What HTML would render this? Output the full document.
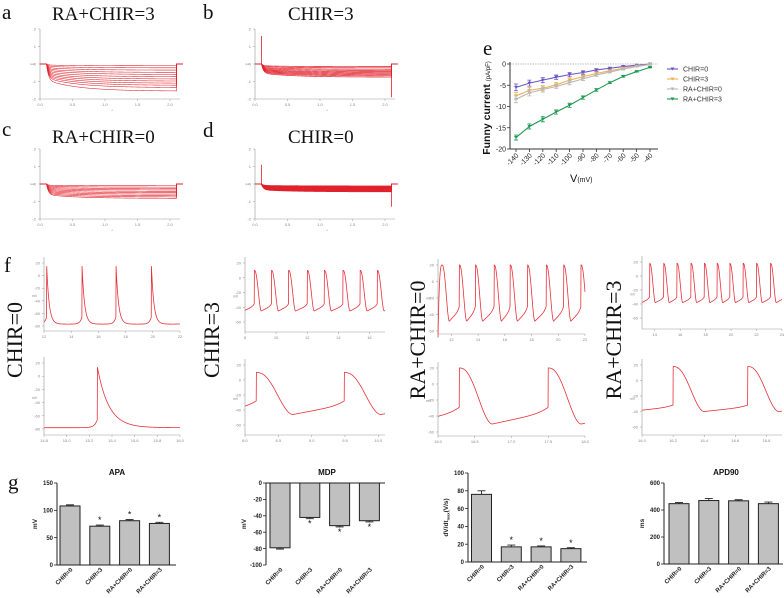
<!DOCTYPE html>
<html><head><meta charset="utf-8">
<style>
html,body{margin:0;padding:0;background:#fff;}
svg{display:block;}
.ser{font-family:"Liberation Serif",serif;}
.san{font-family:"Liberation Sans",sans-serif;}
</style></head>
<body>
<svg id="fig" width="784" height="598" viewBox="0 0 784 598" xmlns="http://www.w3.org/2000/svg">
  <rect x="0" y="0" width="784" height="598" fill="#fff"/>
  <g class="ser" fill="#111">
    <text x="2" y="19" font-size="21">a</text>
    <text x="52" y="20" font-size="19">RA+CHIR=3</text>
    <text x="203" y="19" font-size="21">b</text>
    <text x="288" y="20" font-size="19">CHIR=3</text>
    <text x="2" y="136" font-size="21">c</text>
    <text x="52" y="143" font-size="19">RA+CHIR=0</text>
    <text x="203" y="137" font-size="21">d</text>
    <text x="288" y="143" font-size="19">CHIR=0</text>
    <text x="483" y="55" font-size="21">e</text>
    <text x="4" y="272" font-size="21">f</text>
    <text x="8" y="489" font-size="21">g</text>
    <text transform="translate(22,340) rotate(-90)" text-anchor="middle" font-size="22">CHIR=0</text>
    <text transform="translate(219,340) rotate(-90)" text-anchor="middle" font-size="22">CHIR=3</text>
    <text transform="translate(425,340) rotate(-90)" text-anchor="middle" font-size="22">RA+CHIR=0</text>
    <text transform="translate(621,340) rotate(-90)" text-anchor="middle" font-size="22">RA+CHIR=3</text>
  </g>
  <g id="layer"></g>
</svg>
<script>
// ---------- Panel e data ----------
const eVolt = [-140,-130,-120,-110,-100,-90,-80,-70,-60,-50,-40];
const eChir0 = [-5.5,-4.5,-3.8,-3.1,-2.5,-2.0,-1.4,-1.0,-0.6,-0.3,0];
const eChir3 = [-7.5,-6.2,-5.7,-4.9,-3.8,-3.0,-2.2,-1.6,-1.0,-0.5,-0.1];
const eRa0 = [-8.3,-6.8,-6.0,-5.3,-4.4,-3.5,-2.6,-1.9,-1.2,-0.6,-0.1];
const eRa3 = [-17.3,-14.7,-13.0,-11.3,-9.7,-7.9,-6.1,-4.4,-2.9,-1.8,-0.8];
const eErr3 = [0.6,0.6,0.6,0.5,0.5,0.4,0.3,0.2,0.2,0.1,0.1];
const eErrS = [0.8,0.7,0.6,0.5,0.5,0.4,0.3,0.2,0.2,0.1,0.1];
const eYTicks = [0,-5,-10,-15,-20];
const eNames = ['CHIR=0','CHIR=3','RA+CHIR=0','RA+CHIR=3'];
// ---------- Panel g data ----------
const gGroups = ['CHIR=0','CHIR=3','RA+CHIR=0','RA+CHIR=3'];
const apaVals = [108,71,81,76];
const apaErr = [2,2,2,2];
const apaTicks = [0,50,100,150];
const mdpVals = [-79,-42,-52,-46];
const mdpErr = [1.5,1.5,1.5,1.5];
const mdpTicks = [0,-20,-40,-60,-80,-100];
const dvdtVals = [76,17,17,15];
const dvdtErr = [4,2,1,1];
const dvdtTicks = [0,20,40,60,80,100];
const apdVals = [447,470,468,447];
const apdErr = [8,15,8,12];
const apdTicks = [0,200,400,600];
// ---------- Panel a-d sweep levels (nA) ----------
const sweepA = [-0.1,-0.22,-0.35,-0.48,-0.6,-0.73,-0.86,-0.98,-1.1,-1.22,-1.35,-1.55];
const sweepB = [-0.15,-0.22,-0.3,-0.37,-0.44,-0.5,-0.56,-0.62,-0.68,-0.75];
const sweepC = [-0.1,-0.18,-0.26,-0.34,-0.42,-0.5,-0.58,-0.66,-0.74,-0.82];
const sweepD = [-0.12,-0.16,-0.2,-0.24,-0.28,-0.32,-0.36,-0.4,-0.44];
const clampTicksY = [2,1,0,-1,-2];
const clampTicksX = [0,0.5,1.0,1.5,2.0];
// ---------- Panel f spike times ----------
const spikes1a = [12.2,14.8,17.3,19.9];
const spikes2a = [8.6,9.7,10.8,12.0,13.1,14.3,15.4,16.5];
const spikes3a = [12.6,13.8,15.2,16.4,17.7,19.1,20.4,21.7];
const spikes4a = [13.6,14.7,15.75,16.85,17.9,18.9,19.9,20.95,22.0,23.1];
const spikes1b = [15.27];
const spikes2b = [8.17,9.49];
const spikes3b = [16.29,17.5];
const spikes4b = [16.2,16.68];

const NS='http://www.w3.org/2000/svg';
const layer=document.getElementById('layer');
function mk(parent,tag,attrs,text){const e=document.createElementNS(NS,tag);for(const k in attrs)e.setAttribute(k,attrs[k]);if(text!==undefined)e.textContent=text;parent.appendChild(e);return e;}
function fmt(v){return v.toFixed(1);}

// ---------- Voltage-clamp panels ----------
function clamp(name,ax,ay0,levels,opts){
  const g=mk(layer,'g',{});
  
  
  const yTop=ay0, yBot=ay0+70, xL=ax, xW=130;
  const X=t=>xL+t/2.0*xW, Y=v=>yTop+(2-v)/4*70;
  mk(g,'line',{x1:xL,y1:yTop,x2:xL,y2:yBot,stroke:'#999','stroke-width':0.6});
  mk(g,'line',{x1:xL,y1:yBot,x2:xL+140,y2:yBot,stroke:'#999','stroke-width':0.6});
  clampTicksY.forEach(v=>{mk(g,'line',{x1:xL-2,y1:Y(v),x2:xL,y2:Y(v),stroke:'#999','stroke-width':0.5});
    mk(g,'text',{x:xL-4,y:Y(v)+1.5,'font-size':4,fill:'#888','text-anchor':'end',class:'san'},String(v));});
  clampTicksX.forEach(v=>{mk(g,'line',{x1:X(v),y1:yBot,x2:X(v),y2:yBot+2,stroke:'#999','stroke-width':0.5});
    mk(g,'text',{x:X(v),y:yBot+7,'font-size':4,fill:'#888','text-anchor':'middle',class:'san'},fmt(v));});
  mk(g,'text',{x:xL-10,y:Y(0)+1,'font-size':3.5,fill:'#888'},'nA');
  mk(g,'text',{x:X(1.1),y:yBot+12,'font-size':3.5,fill:'#888'},'s');
  levels.forEach((L,i)=>{
    let d='M'+X(0)+','+Y(0)+' L'+X(0.1)+','+Y(0);
    for(let t=0.1;t<=2.1;t+=0.01){
      const v=L*(opts.fast*(1-Math.exp(-(t-0.1)/0.03))+(1-opts.fast)*(1-Math.exp(-(t-0.1)/0.5)));
      d+=' L'+X(t).toFixed(2)+','+Y(v).toFixed(2);
    }
    d+=' L'+X(2.1)+','+Y(0)+' L'+X(2.2)+','+Y(0);
    const p=mk(g,'path',{d:d,fill:'none',stroke:'#e0202a','stroke-width':opts.w});
    
    
  });
  if(opts.spike){
    mk(g,'line',{x1:X(0.1),y1:Y(0),x2:X(0.1),y2:Y(opts.spike[0]),stroke:'#e0202a','stroke-width':0.8});
    mk(g,'line',{x1:X(2.1),y1:Y(0),x2:X(2.1),y2:Y(opts.spike[1]),stroke:'#e0202a','stroke-width':0.8});
  }
}
clamp('clamp-a',40,29,sweepA,{fast:0.6,w:0.55});
clamp('clamp-b',255,29,sweepB,{fast:0.7,w:0.7,spike:[1.6,-1.9]});
clamp('clamp-c',40,149,sweepC,{fast:0.75,w:0.6});
clamp('clamp-d',255,149,sweepD,{fast:0.75,w:1.0,spike:[1.1,-1.3]});

// ---------- Panel e ----------
(function(){
  const g=mk(layer,'g',{class:'san'});
  
  
  const X=v=>516+(v+140)/100*134, Y=i=>64+(-i)/20*85;
  mk(g,'line',{x1:510,y1:64,x2:658,y2:64,stroke:'#aaa','stroke-width':0.7,'stroke-dasharray':'1.5,1'});
  mk(g,'line',{x1:510,y1:62,x2:510,y2:149,stroke:'#333','stroke-width':1});
  mk(g,'line',{x1:510,y1:149,x2:658,y2:149,stroke:'#333','stroke-width':1});
  eYTicks.forEach(v=>{mk(g,'line',{x1:507,y1:Y(v),x2:510,y2:Y(v),stroke:'#333','stroke-width':0.8});
    const t=mk(g,'text',{x:506,y:Y(v)+2.5,'font-size':7,'text-anchor':'end',fill:'#222'},String(v));
    
    });
  eVolt.forEach(v=>{mk(g,'line',{x1:X(v),y1:149,x2:X(v),y2:152,stroke:'#333','stroke-width':0.8});
    const t=mk(g,'text',{transform:'translate('+(X(v)+3)+',156) rotate(-45)','font-size':7,'text-anchor':'end',fill:'#222'},String(v));
    
    });
  const yl=mk(g,'text',{transform:'translate(490,108) rotate(-90)','text-anchor':'middle','font-size':10.5,'font-weight':'bold',fill:'#111'});
  
  
  yl.innerHTML='Funny current <tspan font-size="6" font-weight="normal">(pA/pF)</tspan>';
  const xl=mk(g,'text',{x:570,y:182,'font-size':11,fill:'#111'});
  
  
  xl.innerHTML='V<tspan font-size="7">(mV)</tspan>';
  const series=[eChir0,eChir3,eRa0,eRa3], errs=[eErrS,eErrS,eErrS,eErr3];
  const cols=['#6a55c8','#f0b050','#b8b8b8','#1f9a52'];
  series.forEach((s,k)=>{
    const sg=mk(g,'g',{});
    
    
    mk(sg,'path',{d:s.map((v,i)=>(i?'L':'M')+X(eVolt[i])+','+Y(v)).join(' '),fill:'none',stroke:cols[k],'stroke-width':1.1});
    s.forEach((v,i)=>{
      const e=errs[k][i];
      mk(sg,'path',{d:'M'+X(eVolt[i])+','+Y(v-e)+' L'+X(eVolt[i])+','+Y(v+e)+' M'+(X(eVolt[i])-2)+','+Y(v-e)+' h4 M'+(X(eVolt[i])-2)+','+Y(v+e)+' h4',stroke:cols[k],'stroke-width':0.8,fill:'none'});
      const m=mk(sg,'path',{d:'M'+(X(eVolt[i])-2)+','+(Y(v)-1.5)+' h4 l-2,3 z',fill:cols[k]});
      
      
    });
    const ly=69+k*10;
    mk(g,'line',{x1:667,y1:ly,x2:678,y2:ly,stroke:cols[k],'stroke-width':1.1});
    mk(g,'path',{d:'M'+670.5+','+(ly-1.5)+' h4 l-2,3 z',fill:cols[k]});
    const lt=mk(g,'text',{x:683,y:ly+2.5,'font-size':7,fill:'#333'},eNames[k]);
    
    
  });
})();

// ---------- Panel f ----------
function trace(name,ax,xw,yTop,d0,d1,xticks,vmin,vmax,yticks,spikes,p){
  const g=mk(layer,'g',{class:'san'});
  
  
  const yBot=yTop+(p.h||72);
  const Y=v=>yTop+(yticks[0]-v)/(yticks[0]-yticks[yticks.length-1])*(p.th);
  const X=t=>ax+(t-d0)/(d1-d0)*xw;
  mk(g,'line',{x1:ax,y1:yTop-6,x2:ax,y2:yBot,stroke:'#999','stroke-width':0.6});
  mk(g,'line',{x1:ax,y1:yBot,x2:ax+xw,y2:yBot,stroke:'#999','stroke-width':0.6});
  yticks.forEach(v=>{mk(g,'line',{x1:ax-2,y1:Y(v),x2:ax,y2:Y(v),stroke:'#999','stroke-width':0.5});
    mk(g,'text',{x:ax-4,y:Y(v)+1.5,'font-size':4,fill:'#888','text-anchor':'end'},String(v));});
  xticks.forEach(v=>{mk(g,'line',{x1:X(v),y1:yBot,x2:X(v),y2:yBot+2,stroke:'#999','stroke-width':0.5});
    mk(g,'text',{x:X(v),y:yBot+7,'font-size':4,fill:'#888','text-anchor':'middle'},p.dec?v.toFixed(1):String(v));});
  mk(g,'text',{x:ax-12,y:(Y(yticks[0])+yBot)/2,'font-size':3.5,fill:'#888'},'mV');
  const ap=t=>{
    let s=null,nx=null;
    for(const k of spikes){ if(k<=t) s=k; else if(nx===null) nx=k; }
    const per=p.per;
    if(s===null) s=spikes[0]-per;
    if(nx===null) nx=s+per;
    const dt=t-s;
    if(p.sharp){
      let v=p.mdp+(p.peak-p.mdp)*Math.exp(-dt/p.tau);
      v+= 12*Math.exp(-(nx-t)/p.tau2);
      return v;
    }
    if(dt<p.dur){const x=dt/p.dur;const f=x*x*(3-2*x);return p.peak-(p.peak-p.mdp)*Math.pow(f,1.3);}
    const span=nx-s-p.dur;
    const x=(dt-p.dur)/span;
    return p.mdp+(p.thr-p.mdp)*(x+0.4*Math.pow(x,6));
  };
  let d='';
  const N=700;
  for(let i=0;i<=N;i++){
    const t=d0+(d1-d0)*i/N;
    const v=ap(t);
    d+=(i?' L':'M')+X(t).toFixed(2)+','+Y(v).toFixed(2);
  }
  const path=mk(g,'path',{d:d,fill:'none',stroke:'#e8303a','stroke-width':0.8});
  
  
}
trace('ap-chir0-long',44,136,263,12,22,[12,14,16,18,20,22],-80,20,[20,0,-20,-40,-60,-80],spikes1a,{sharp:true,peak:15,mdp:-77,tau:0.18,tau2:0.15,per:2.6,th:63,h:68});
trace('ap-chir3-long',245,140,263,8,17,[8,10,12,14,16],-60,20,[20,0,-20,-40,-60],spikes2a,{peak:10,mdp:-45,thr:-38,dur:0.45,per:1.14,th:59,h:69});
trace('ap-ra-chir0-long',438,147,265,11,22,[12,14,16,18,20,22],-60,20,[20,0,-20,-40,-60],spikes3a,{peak:20,mdp:-48,thr:-35,dur:0.55,per:1.3,th:66,h:69});
trace('ap-ra-chir3-long',642,140,262,13,24,[14,16,18,20,22,24],-60,20,[20,0,-20,-40,-60],spikes4a,{peak:18,mdp:-38,thr:-32,dur:0.45,per:1.05,th:56,h:67});
trace('ap-chir0-zoom',44,136,363,14.8,16.0,[14.8,15.0,15.2,15.4,15.6,15.8,16.0],-80,20,[20,0,-20,-40,-60,-80],spikes1b,{sharp:true,dec:true,peak:15,mdp:-78,tau:0.1,tau2:0.025,per:3,th:66,h:72});
trace('ap-chir3-zoom',245,140,365,8.0,10.1,[8.0,8.5,9.0,9.5,10.0],-60,20,[20,0,-20,-40,-60],spikes2b,{dec:true,peak:10,mdp:-46,thr:-33,dur:0.55,per:1.32,th:60,h:70});
trace('ap-ra-chir0-zoom',438,147,368,16.0,18.0,[16.0,16.5,17.0,17.5,18.0],-60,20,[20,0,-20,-40,-60],spikes3b,{dec:true,peak:20,mdp:-50,thr:-35,dur:0.45,per:1.21,th:64,h:68});
trace('ap-ra-chir3-zoom',642,140,365,16.0,16.9,[16.0,16.2,16.4,16.6,16.8],-60,20,[20,0,-20,-40,-60],spikes4b,{dec:true,peak:18,mdp:-40,thr:-34,dur:0.2,per:0.48,th:62,h:70});

// ---------- Panel g ----------
function bars(name,ax,x0,yTop,yBot,vmin,vmax,ticks,vals,errs,title,ylabel,neg,stars){
  const g=mk(layer,'g',{class:'san'});
  
  
  const Y=v=>yBot-(v-vmin)/(vmax-vmin)*(yBot-yTop);
  const base=Y(0);
  if(title){const t=mk(g,'text',{x:x0+47,y:475,'font-size':8,'font-weight':'bold','text-anchor':'middle',fill:'#111'},title);
    
    }
  vals.forEach((v,i)=>{
    const cx=x0+i*29.8, top=Math.min(Y(v),base), h=Math.abs(Y(v)-base);
    const r=mk(g,'rect',{x:cx-10,y:top,width:20,height:h,fill:'#c0c0c0',stroke:'#222','stroke-width':1});
    
    
    const ey=neg?Y(v-errs[i]):Y(v+errs[i]);
    mk(g,'path',{d:'M'+cx+','+Y(v)+' L'+cx+','+ey+' M'+(cx-4)+','+ey+' h8',stroke:'#222','stroke-width':0.9,fill:'none'});
    if(stars && i>0){const sy=neg?ey+8:ey-2;
      mk(g,'text',{x:cx,y:sy,'font-size':9,'text-anchor':'middle',fill:'#111'},'*');}
    const lt=mk(g,'text',{transform:'translate('+(cx+3)+','+(yBot+5)+') rotate(-45)','font-size':6,'font-weight':'bold','text-anchor':'end',fill:'#222'},gGroups[i]);
    
    
  });
  mk(g,'line',{x1:ax,y1:yTop,x2:ax,y2:yBot,stroke:'#222','stroke-width':1});
  mk(g,'line',{x1:ax,y1:neg?yTop:yBot,x2:ax+119,y2:neg?yTop:yBot,stroke:'#222','stroke-width':1});
  ticks.forEach(v=>{mk(g,'line',{x1:ax-3,y1:Y(v),x2:ax,y2:Y(v),stroke:'#222','stroke-width':0.8});
    const t=mk(g,'text',{x:ax-4,y:Y(v)+2.2,'font-size':6,'font-weight':'bold','text-anchor':'end',fill:'#222'},String(v));
    
    });
  const yl=mk(g,'text',{transform:'translate('+(ax-20)+','+((yTop+yBot)/2)+') rotate(-90)','font-size':6.5,'font-weight':'bold','text-anchor':'middle',fill:'#222'});
  
  
  yl.innerHTML=ylabel;
}
bars('apa-chart',57,70,483,565,0,150,apaTicks,apaVals,apaErr,'APA','mV',false,true);
bars('mdp-chart',266,280,483,565,-100,0,mdpTicks,mdpVals,mdpErr,'MDP','mV',true,true);
bars('dvdt-chart',468,481.5,473,562,0,100,dvdtTicks,dvdtVals,dvdtErr,'','dV/dt<tspan font-size="4" dy="1.5">max</tspan><tspan dy="-1.5">(V/s)</tspan>',false,true);
bars('apd90-chart',664,679,483,564,0,600,apdTicks,apdVals,apdErr,'APD90','ms',false,false);
</script>
</body></html>
